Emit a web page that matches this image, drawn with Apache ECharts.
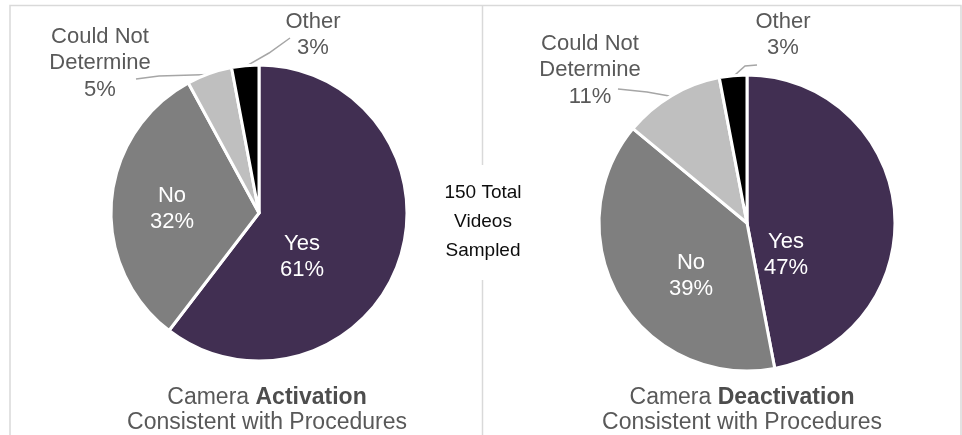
<!DOCTYPE html>
<html>
<head>
<meta charset="utf-8">
<script src="https://cdn.jsdelivr.net/npm/echarts@6/dist/echarts.min.js"></script>
<style>
  html, body { margin: 0; padding: 0; background: #fff; }
  #chart { width: 962px; height: 435px; }
</style>
</head>
<body>
<div id="chart"></div>
<script>
// Slice categories and their on-chart label text
const categories = ['Yes', 'No', 'Could Not Determine', 'Other'];
const labelNames = ['Yes', 'No', 'Could Not\nDetermine', 'Other'];

// Share of sampled videos (%) per category
const activationValues = [61, 32, 5, 3];
const deactivationValues = [47, 39, 11, 3];

const sliceColors = ['#412f52', '#7f7f7f', '#bfbfbf', '#000000'];
const FONT = 'Liberation Sans, Arial, sans-serif';

// Label centre, relative to its pie centre
const labelOffsets = [
  [[43, 44], [-87, -4], [-159, -150], [54, -178]],
  [[39, 32], [-56, 53], [-157, -153], [36, -188]]
];
// Leader-line bend and end points (relative to pie centre) for the outside labels
const leaderEnds = [
  { 2: [[-100, -137], [-123, -134]], 3: [[10, -160], [31, -175]] },
  { 2: [[-100, -131], [-129, -134]], 3: [[-2, -157], [10, -158]] }
];
const pieCentres = [[259, 213], [747, 223]];
const pieRadius = 148;

function midAngle(values, i) {
  const total = values.reduce((a, b) => a + b, 0);
  let before = 0;
  for (let k = 0; k < i; k++) before += values[k];
  return (before + values[i] / 2) / total * Math.PI * 2; // clockwise from 12 o'clock
}

function buildSeries(values, idx) {
  const c = pieCentres[idx];
  return {
    type: 'pie',
    center: c,
    radius: pieRadius,
    startAngle: 90,
    clockwise: true,
    silent: true,
    animation: false,
    data: values.map((v, i) => ({
      name: categories[i],
      value: v,
      itemStyle: { color: sliceColors[i] },
      label: i < 2
        ? { position: 'inside', color: '#ffffff' }
        : { position: 'outside', color: '#595959' },
      labelLine: { show: i >= 2 }
    })),
    itemStyle: { borderColor: '#ffffff', borderWidth: 3 },
    label: {
      formatter: p => labelNames[p.dataIndex] + '\n' + p.value + '%',
      fontFamily: FONT,
      fontSize: 22,
      lineHeight: 26.5,
      align: 'center'
    },
    labelLine: {
      lineStyle: { color: '#a6a6a6', width: 1.5 },
      length: 10,
      length2: 20
    },
    labelLayout: p => {
      const i = p.dataIndex;
      const off = labelOffsets[idx][i];
      const out = {
        x: c[0] + off[0],
        y: c[1] + off[1],
        align: 'center',
        verticalAlign: 'middle'
      };
      const ends = leaderEnds[idx][i];
      if (ends) {
        const a = midAngle(values, i);
        const r = pieRadius - 1;
        out.labelLinePoints = [
          [c[0] + r * Math.sin(a), c[1] - r * Math.cos(a)],
          [c[0] + ends[0][0], c[1] + ends[0][1]],
          [c[0] + ends[1][0], c[1] + ends[1][1]]
        ];
      }
      return out;
    }
  };
}

const titleRich = {
  n: { fontFamily: FONT, fontSize: 23, fill: '#595959', lineHeight: 25 },
  b: { fontFamily: FONT, fontSize: 23, fill: '#4d4d4d', fontWeight: 'bold', lineHeight: 25 }
};

const chart = echarts.init(document.getElementById('chart'), null, { renderer: 'canvas' });
chart.setOption({
  animation: false,
  backgroundColor: '#ffffff',
  series: [buildSeries(activationValues, 0), buildSeries(deactivationValues, 1)],
  graphic: [
    // outer frame
    { type: 'polyline', silent: true, z: -1,
      shape: { points: [[10, 436], [10, 5.5], [961, 5.5], [961, 436]] },
      style: { stroke: '#d9d9d9', lineWidth: 1.5, fill: null } },
    // divider between the two panels
    { type: 'line', silent: true, shape: { x1: 482.5, y1: 5, x2: 482.5, y2: 165 },
      style: { stroke: '#d9d9d9', lineWidth: 1.5 } },
    { type: 'line', silent: true, shape: { x1: 482.5, y1: 280, x2: 482.5, y2: 436 },
      style: { stroke: '#d9d9d9', lineWidth: 1.5 } },
    // sample size note
    { type: 'text', silent: true, x: 483, y: 222,
      style: { text: '150 Total\nVideos\nSampled', font: '19px ' + FONT, fill: '#0d0d0d',
               lineHeight: 29, align: 'center', verticalAlign: 'middle' } },
    // panel captions
    { type: 'text', silent: true, x: 267, y: 410,
      style: { text: '{n|Camera }{b|Activation}\n{n|Consistent with Procedures}', rich: titleRich,
               align: 'center', verticalAlign: 'middle' } },
    { type: 'text', silent: true, x: 742, y: 410,
      style: { text: '{n|Camera }{b|Deactivation}\n{n|Consistent with Procedures}', rich: titleRich,
               align: 'center', verticalAlign: 'middle' } }
  ]
});
</script>
</body>
</html>
